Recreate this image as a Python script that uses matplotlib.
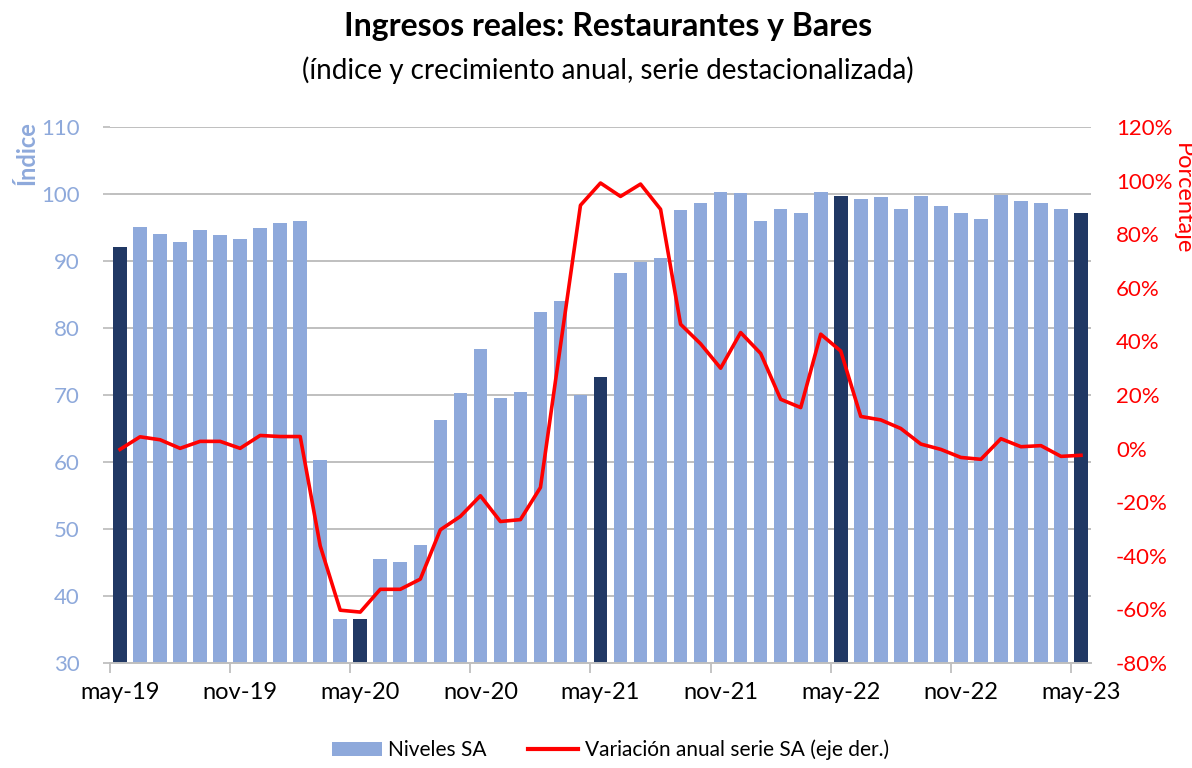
import numpy as np
import matplotlib.pyplot as plt
from matplotlib.ticker import FuncFormatter
from matplotlib.patches import Patch
from matplotlib.lines import Line2D

plt.rcParams['font.family'] = ['Lato', 'DejaVu Sans']

# datos (may-19 a may-23)
meses = ['may-19', 'jun-19', 'jul-19', 'ago-19', 'sep-19', 'oct-19', 'nov-19', 'dic-19',
         'ene-20', 'feb-20', 'mar-20', 'abr-20', 'may-20', 'jun-20', 'jul-20', 'ago-20',
         'sep-20', 'oct-20', 'nov-20', 'dic-20', 'ene-21', 'feb-21', 'mar-21', 'abr-21',
         'may-21', 'jun-21', 'jul-21', 'ago-21', 'sep-21', 'oct-21', 'nov-21', 'dic-21',
         'ene-22', 'feb-22', 'mar-22', 'abr-22', 'may-22', 'jun-22', 'jul-22', 'ago-22',
         'sep-22', 'oct-22', 'nov-22', 'dic-22', 'ene-23', 'feb-23', 'mar-23', 'abr-23',
         'may-23']

niveles = [92.1, 95.1, 94.1, 92.8, 94.7, 93.9, 93.3, 95.0, 95.7, 95.9,
           60.3, 36.6, 36.6, 45.5, 45.1, 47.6, 66.3, 70.3, 76.9, 69.6,
           70.4, 82.4, 84.0, 70.0, 72.7, 88.2, 89.8, 90.5, 97.6, 98.6, 100.3, 100.1,
           95.9, 97.8, 97.2, 100.3, 99.7, 99.3, 99.5, 97.8, 99.7, 98.2, 97.2, 96.2,
           99.9, 99.0, 98.6, 97.8, 97.2]

variacion = [-0.3, 4.4, 3.3, 0.1, 2.7, 2.7, 0.1, 4.9, 4.5, 4.5,
             -36.3, -60.3, -61.0, -52.5, -52.5, -48.7, -30.3, -25.3, -17.6, -27.2,
             -26.5, -14.5, 38.4, 90.8, 99.1, 94.1, 98.7, 89.3, 46.4, 39.1, 30.0, 43.3,
             35.5, 18.4, 15.3, 42.7, 36.4, 12.0, 10.7, 7.5, 1.7, -0.3, -3.3, -4.0,
             3.7, 0.7, 1.1, -2.9, -2.5]

azul_claro = '#8EA9DB'
azul_oscuro = '#203864'
rojo = '#FF0000'
gris = '#BFBFBF'

x = np.arange(len(meses))
colores = [azul_oscuro if m.startswith('may') else azul_claro for m in meses]

fig = plt.figure(figsize=(11.92, 7.68), dpi=100)
ax = fig.add_axes([110/1192, 1 - 663/768, 981/1192, 536/768])

ax.bar(x, niveles, width=0.68, color=colores, zorder=2)
ax.set_ylim(30, 110)
ax.set_xlim(-0.5, len(meses) - 0.5)
ax.set_yticks(np.arange(30, 111, 10))
ax.yaxis.grid(True, color=gris, linewidth=1.4, zorder=0)
ax.set_axisbelow(True)

ax.set_xticks(x[::6])
ax.set_xticklabels(meses[::6])
ax.set_xticks(np.arange(-0.5, len(meses) - 1, 6), minor=True)
ax.tick_params(axis='x', which='major', length=0, pad=14, labelsize=17, labelcolor='black')
ax.tick_params(axis='x', which='minor', length=7, color=gris, width=1.3)
ax.tick_params(axis='y', length=5, color=gris, width=1.3, pad=17, labelsize=16,
               labelcolor=azul_claro)

for s in ['top', 'left', 'right']:
    ax.spines[s].set_visible(False)
ax.spines['bottom'].set_color(gris)
ax.spines['bottom'].set_linewidth(1.4)

ax2 = ax.twinx()
ax2.plot(x, np.array(variacion) / 100, color=rojo, linewidth=2.6, zorder=3)
ax2.set_ylim(-0.8, 1.2)
ax2.set_yticks(np.arange(-0.8, 1.21, 0.2))
ax2.yaxis.set_major_formatter(FuncFormatter(lambda v, p: f'{int(round(v*100))}%'))
ax2.tick_params(axis='y', length=0, pad=18, labelsize=16, labelcolor=rojo)
for s in ax2.spines.values():
    s.set_visible(False)

fig.text(0.51, 0.965, 'Ingresos reales: Restaurantes y Bares', ha='center', va='center',
         fontsize=23, fontweight='bold')
fig.text(0.51, 0.909, '(índice y crecimiento anual, serie destacionalizada)',
         ha='center', va='center', fontsize=20)
fig.text(27/1192, 1 - 153/768, 'Índice', rotation=90, ha='center', va='center',
         fontsize=17, fontweight='bold', color=azul_claro)
fig.text(1182/1192, 1 - 199/768, 'Porcentaje', rotation=270, ha='center', va='center',
         fontsize=17, color=rojo)

handles = [Patch(facecolor=azul_claro), Line2D([0], [0], color=rojo, linewidth=3)]
fig.legend(handles, ['Niveles SA', 'Variación anual serie SA (eje der.)'],
           loc='center', bbox_to_anchor=(0.512, 1 - 750/768), ncol=2, frameon=False,
           fontsize=15, handlelength=2.4, handletextpad=0.3, columnspacing=2.0)

fig.savefig('out.png', dpi=100)
